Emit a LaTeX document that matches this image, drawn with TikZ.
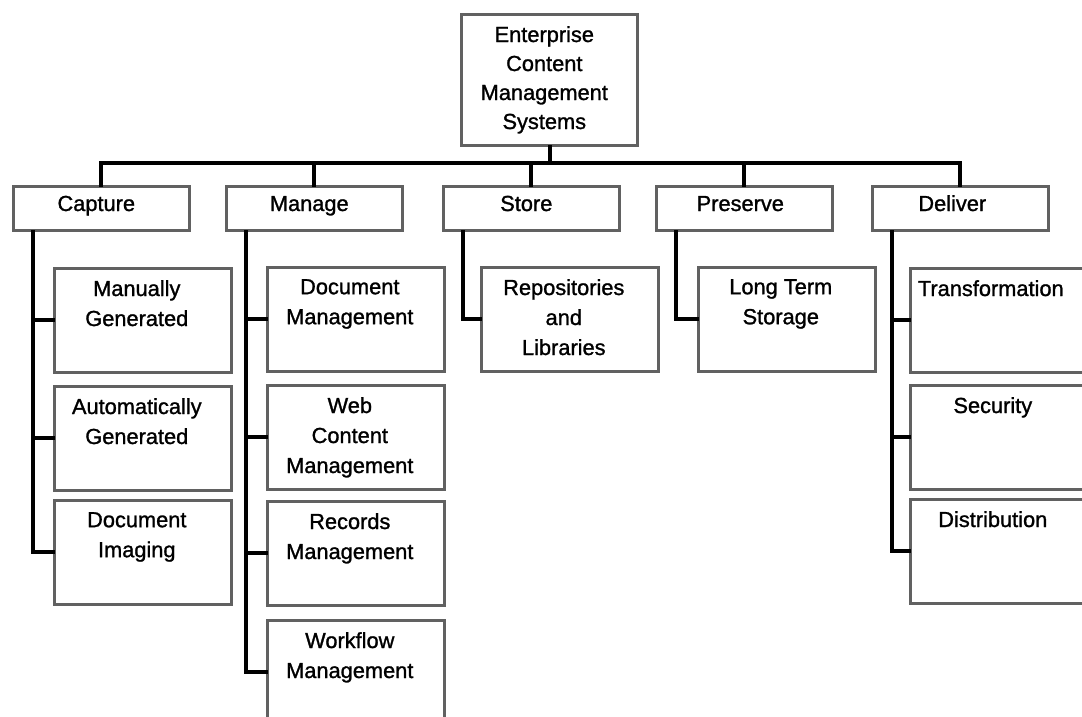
\documentclass[tikz,border=0pt]{standalone}
\usepackage{fontspec}
\setmainfont{Liberation Sans}[FakeBold=1.2]
\begin{document}
\begin{tikzpicture}[x=1pt,y=-1pt,
  frame/.style={draw=black!62, line width=2.6pt, fill=white, rectangle, inner sep=0pt,
    minimum width=176pt, anchor=north west},
  headbox/.style={frame, minimum height=44pt},
  subbox/.style={frame, minimum width=177pt, minimum height=104pt},
  lbl/.style={inner sep=0pt, align=center, font=\fontsize{21.8}{30}\selectfont},
  conn/.style={draw=black, line width=3.8pt, line cap=rect}]
\useasboundingbox (0,0) rectangle (1082,716);
\clip (0,0) rectangle (1082,716);
\fill[white] (0,0) rectangle (1082,716);

% root
\node[frame, minimum height=131pt] (ecm) at (460,13) {};
\node[lbl, anchor=north, font=\fontsize{21.8}{29}\selectfont] (ecmt)
  at ([xshift=-5pt,yshift=-13pt]ecm.north)
  {Enterprise\\Content\\Management\\Systems};

% first level
\node[headbox] (cap) at (12,185) {};
\node[headbox] (man) at (225,185) {};
\node[headbox] (sto) at (442,185) {};
\node[headbox] (pre) at (655,185) {};
\node[headbox] (del) at (871,185) {};
\foreach \b/\t/\dx in {cap/Capture/-5, man/Manage/-5, sto/Store/-5,
    pre/Preserve/-4, del/Deliver/-8}
  \node[lbl, anchor=base] at ([xshift=\dx pt]\b.north |- 0,211) {\t};

% second level: Capture
\node[subbox] (mg) at (53,267) {};
\node[subbox] (ag) at (53,385) {};
\node[subbox] (di) at (53,499) {};
% second level: Manage
\node[subbox] (dm) at (266,266) {};
\node[subbox] (wc) at (266,384) {};
\node[subbox] (rm) at (266,500) {};
\node[subbox] (wf) at (266,619) {};
% second level: Store, Preserve
\node[subbox] (rl) at (480,266) {};
\node[subbox] (lt) at (697,266) {};
% second level: Deliver
\node[subbox] (tr) at (909,267) {};
\node[subbox] (se) at (909,384) {};
\node[subbox] (ds) at (909,498) {};

\foreach \b/\t in {mg/{Manually\\Generated}, ag/{Automatically\\Generated},
    di/{Document\\Imaging}, dm/{Document\\Management},
    wc/{Web\\Content\\Management}, rm/{Records\\Management},
    wf/{Workflow\\Management}, rl/{Repositories\\and\\Libraries},
    lt/{Long Term\\Storage}, se/{Security}, ds/{Distribution}}
  \node[lbl, anchor=north] at ([xshift=-6pt,yshift=-13pt]\b.north) {\t};
\node[lbl, anchor=north] at ([xshift=-8pt,yshift=-13pt]tr.north) {Transformation};

% bus from the root to the five areas
\coordinate (bus) at (550,163);
\draw[conn] (ecm.south -| bus) -- (bus);
\draw[conn] (cap.north) |- (bus) -| (del.north);
\foreach \n in {man,sto,pre}
  \draw[conn] (\n.north) -- (\n.north |- bus);

% trunks down the left of each area
\foreach \h/\c in {cap/mg, cap/ag, cap/di, man/dm, man/wc, man/rm, man/wf,
    sto/rl, pre/lt, del/tr, del/se, del/ds}
  \draw[conn] ([xshift=21pt]\h.south west) |- (\c.west);
\end{tikzpicture}
\end{document}
